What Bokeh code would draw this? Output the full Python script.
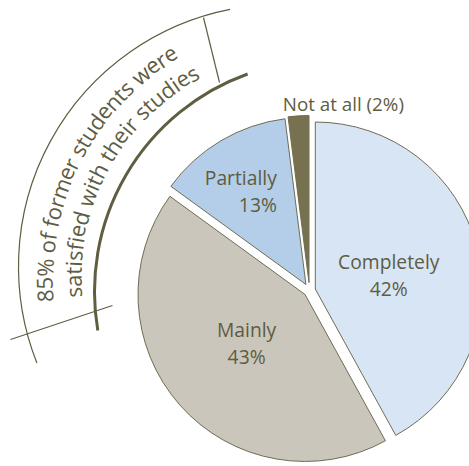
import math
from bokeh.plotting import figure
from bokeh.models import Range1d, ColumnDataSource
from bokeh.core.properties import value
from bokeh.embed import file_html
from bokeh.resources import INLINE

# ---------------- data ----------------
categories = ["Completely", "Mainly", "Partially", "Not at all"]
shares = [42, 43, 13, 2]
pct_labels = ["42%", "43%", "13%", "(2%)"]
headline_lines = ["85% of former students were", "satisfied with their studies"]

# ---------------- styles ----------------
fills = ["#d8e5f4", "#cbc6bb", "#b4cee9", "#77714f"]
explode = [6, 6, 7, 8]
OUTLINE = "#6e6c52"
TEXT_C = "#5e5c41"
ARC_C = "#605e40"
FONT = "Open Sans"

W, H = 469, 466

def PY(y):  # page y -> data y
    return H - y

p = figure(width=W, height=H, x_range=Range1d(0, W), y_range=Range1d(0, H),
           output_backend="svg", toolbar_location=None, min_border=0)
p.axis.visible = False
p.grid.visible = False
p.outline_line_color = None
p.background_fill_color = "white"
p.border_fill_color = "white"

# ---------------- pie ----------------
CX, CY, R = 309, PY(290), 167
total = sum(shares)
cum = 0
wx, wy, sa, ea, mids = [], [], [], [], []
for s, e in zip(shares, explode):
    a0 = cum / total * 360
    a1 = (cum + s) / total * 360
    cum += s
    mid = math.radians((a0 + a1) / 2)
    mids.append(mid)
    wx.append(CX + e * math.sin(mid))
    wy.append(CY + e * math.cos(mid))
    sa.append(math.radians(90 - a1))
    ea.append(math.radians(90 - a0))
src = ColumnDataSource(dict(x=wx, y=wy, sa=sa, ea=ea, fill=fills, cat=categories))
p.wedge(x="x", y="y", radius=R, start_angle="sa", end_angle="ea", fill_color="fill",
        line_color=OUTLINE, line_width=1, source=src)

LBL_SIZE = "19.3px"
def label(x, y, txt, align="center"):
    p.text(x=[x], y=[y], text=[txt], text_align=align, text_baseline="middle",
           text_font=value(FONT), text_font_size=LBL_SIZE, text_color=TEXT_C)

lab_r = [0.49, 0.51, 0.69]
lab_dx = [0, 1, 26]
lab_dy = [-5, 4, 0]
lab_align = ["center", "center", "right"]
for i in range(3):
    ax = CX + lab_r[i] * R * math.sin(mids[i]) + lab_dx[i]
    ay = CY + lab_r[i] * R * math.cos(mids[i]) + lab_dy[i]
    label(ax, ay + 13.5, categories[i], lab_align[i])
    label(ax, ay - 13.5, pct_labels[i], lab_align[i])
nx = CX + (R + 20) * math.sin(mids[3])
ny = CY + (R + 20) * math.cos(mids[3])
p.text(x=[nx - 15], y=[ny], text=[categories[3] + " " + pct_labels[3]], text_align="left",
       text_baseline="middle", text_font=value(FONT), text_font_size="18.8px", text_color=TEXT_C)

# ---------------- decorative arcs ----------------
p.arc(x=[325], y=[PY(291)], radius=231, start_angle=math.radians(109.7),
      end_angle=math.radians(189.7), line_color=ARC_C, line_width=3)
p.arc(x=[280], y=[PY(266)], radius=262, start_angle=math.radians(101.1),
      end_angle=math.radians(201.6), line_color=ARC_C, line_width=1.2)
p.segment(x0=[203, 10], y0=[PY(17), PY(339)], x1=[219, 112], y1=[PY(82), PY(305)],
          line_color=ARC_C, line_width=1.2)

# ---------------- curved headline ----------------
ADV = {' ': .26, '%': .83, '8': .572, '5': .572, 'a': .556, 'd': .613, 'e': .561,
       'f': .339, 'h': .614, 'i': .253, 'm': .930, 'n': .614, 'o': .604, 'r': .408,
       's': .477, 't': .353, 'u': .614, 'w': .788}
TCX, TCY = 305, PY(276)
HEAD_SIZE = 22
line_r = [261, 233]
line_start = [185.6, 185.2]
line_track = [0.0, 0.2]

xs, ys, angs, chars = [], [], [], []
for txt, r, st, tr in zip(headline_lines, line_r, line_start, line_track):
    pos = 0.0
    for ch in txt:
        w = ADV.get(ch, 0.55) * HEAD_SIZE + tr
        if ch != ' ':
            th = math.radians(st) - (pos + w / 2) / r
            xs.append(TCX + r * math.cos(th))
            ys.append(TCY + r * math.sin(th))
            angs.append(th - math.pi / 2)
            chars.append(ch)
        pos += w
p.text(x=xs, y=ys, text=chars, angle=angs, text_align="center", text_baseline="middle",
       text_font=value(FONT), text_font_size=f"{HEAD_SIZE}px", text_color=TEXT_C)

open("out.html", "w").write(file_html(p, INLINE))
